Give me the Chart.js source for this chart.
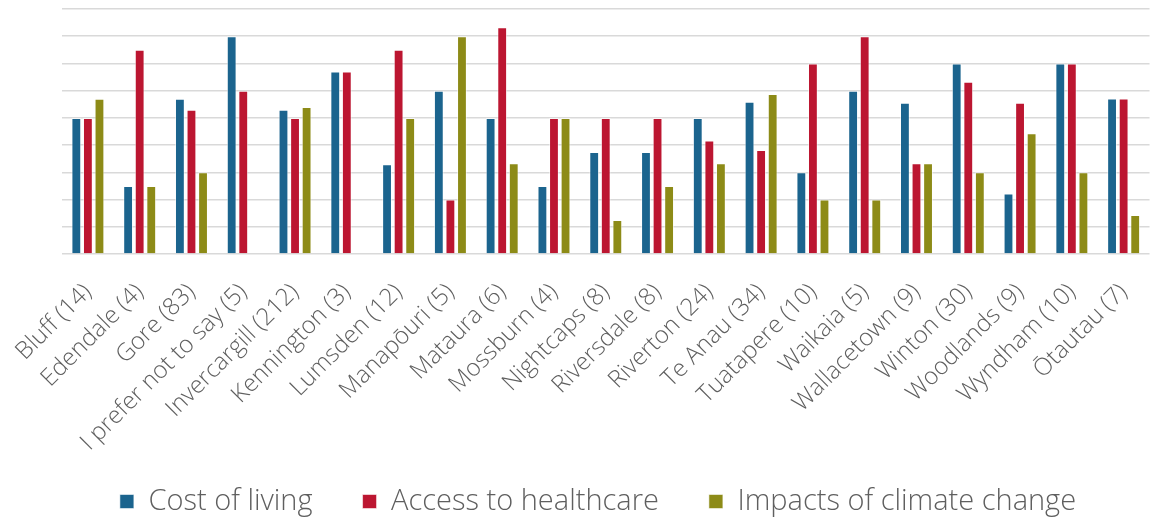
<!DOCTYPE html>
<html>
<head>
<meta charset="utf-8">
<script src="https://cdn.jsdelivr.net/npm/chart.js@4"></script>
<style>
  html, body { margin: 0; padding: 0; background: #fff; }
  #wrap { width: 1160px; height: 517px; }
</style>
</head>
<body>
<div id="wrap"><canvas id="bar"></canvas></div>
<script>
const towns = [
  "Bluff (14)", "Edendale (4)", "Gore (83)", "I prefer not to say (5)",
  "Invercargill (212)", "Kennington (3)", "Lumsden (12)", "Manapōuri (5)",
  "Mataura (6)", "Mossburn (4)", "Nightcaps (8)", "Riversdale (8)",
  "Riverton (24)", "Te Anau (34)", "Tuatapere (10)", "Waikaia (5)",
  "Wallacetown (9)", "Winton (30)", "Woodlands (9)", "Wyndham (10)", "Ōtautau (7)"
];

// share of respondents (%) naming each concern
const costOfLiving = [50, 25, 57, 80, 53, 67, 33, 60, 50, 25, 37.5, 37.5, 50, 55.9, 30, 60, 55.6, 70, 22.2, 70, 57.1];
const healthcare = [50, 75, 53, 60, 50, 67, 75, 20, 83.3, 50, 50, 50, 41.7, 38.2, 70, 80, 33.3, 63.3, 55.6, 70, 57.1];
const climate = [57, 25, 30, 0, 54, 0, 50, 80, 33.3, 50, 12.5, 25, 33.3, 58.8, 20, 20, 33.3, 30, 44.4, 30, 14.3];

const yTicks = { min: 0, max: 90, step: 10 };

const bar = document.getElementById("bar");
const grey = "#5f5f5f";

function series(label, data, color) {
  return {
    label: label,
    data: data,
    backgroundColor: color,
    borderColor: "rgba(255,255,255,0.55)",
    borderWidth: 1,
    barPercentage: 0.85,
    categoryPercentage: 0.67,
  };
}

// long rotated town names run past the axis box; let them overlap the legend band
const unclipLabels = {
  id: "unclipLabels",
  afterLayout(chart) {
    chart.scales.x.bottom = chart.height;
  },
};

new Chart(bar, {
  type: "bar",
  data: {
    labels: towns,
    datasets: [
      series("Cost of living", costOfLiving, "#1b648e"),
      series("Access to healthcare", healthcare, "#bc1631"),
      series("Impacts of climate change", climate, "#8d8b17"),
    ],
  },
  plugins: [unclipLabels],
  options: {
    responsive: true,
    maintainAspectRatio: false,
    animation: false,
    layout: { padding: { left: 32, right: -4, top: 9, bottom: -9 } },
    plugins: {
      tooltip: { enabled: false },
      legend: {
        position: "bottom",
        labels: {
          boxWidth: 14,
          boxHeight: 14,
          padding: 50,
          color: grey,
          font: { family: "Open Sans", size: 29, weight: "300" },
        },
      },
    },
    scales: {
      x: {
        grid: { display: false },
        border: { display: false },
        ticks: {
          color: grey,
          font: { family: "Open Sans", size: 24, weight: "300" },
          minRotation: 45,
          maxRotation: 45,
          padding: 16,
          autoSkip: false,
        },
        // keep the plot floor fixed regardless of label length
        afterFit: (scale) => {
          scale.height = 183;
        },
      },
      y: {
        min: yTicks.min,
        max: yTicks.max,
        border: { display: false },
        grid: { color: "#d9d9d9", lineWidth: 1.5, drawTicks: false },
        ticks: { display: false, stepSize: yTicks.step },
        afterFit: (scale) => {
          scale.width = 30;
        },
      },
    },
  },
});
</script>
</body>
</html>
